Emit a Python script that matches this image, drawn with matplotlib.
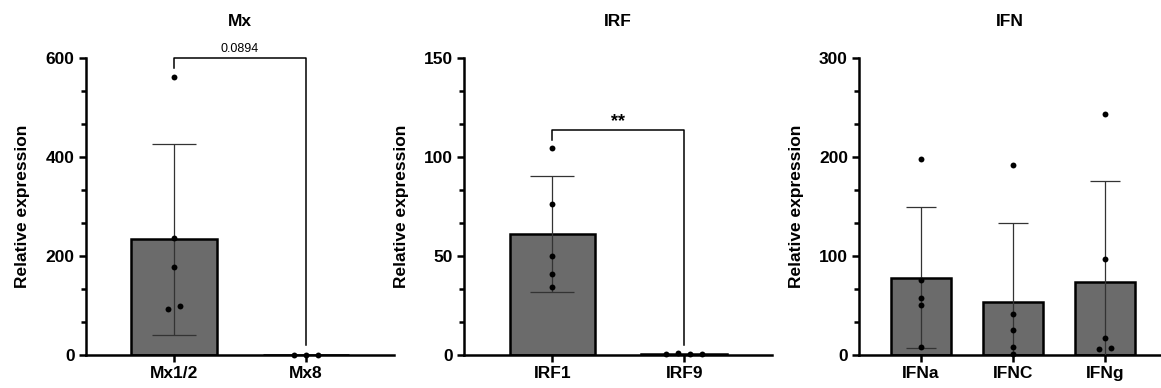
import numpy as np
import matplotlib
matplotlib.use("Agg")
import matplotlib.pyplot as plt
from matplotlib.ticker import AutoMinorLocator, MultipleLocator

plt.rcParams['font.family'] = ['Liberation Sans', 'DejaVu Sans']
plt.rcParams['font.weight'] = 'bold'

# ---- data ----
mx_labels = ["Mx1/2", "Mx8"]
mx_points = [[562, 237, 177, 100, 93], [0.8, 1.0, 0.8]]
mx_jitter = [[0, 0, 0, 0.045, -0.045], [-0.09, 0, 0.09]]

irf_labels = ["IRF1", "IRF9"]
irf_points = [[104.6, 76.2, 49.8, 40.8, 34.1], [0.4, 1.2, 0.6, 0.5]]
irf_jitter = [[0, 0, 0, 0, 0], [-0.137, -0.046, 0.046, 0.137]]

ifn_labels = ["IFNa", "IFNC", "IFNg"]
ifn_points = [[198, 75.8, 58, 51, 8],
              [192.4, 41.8, 25.6, 8, 1],
              [243, 97, 17, 6, 7.5]]
ifn_jitter = [[0, 0, 0, 0, 0], [0, 0, 0, 0, 0], [0, 0, 0, -0.065, 0.065]]

titles = ["Mx", "IRF", "IFN"]
ymax = [600, 150, 300]
ystep = [200, 50, 100]

BAR_COLOR = "#6b6b6b"
FS = 12.5


def draw_panel(ax, labels, points, jitter, title, top, step, xmax, cap):
    xs = np.arange(len(labels))
    means = [np.mean(p) for p in points]
    sds = [np.std(p, ddof=1) for p in points]
    ax.bar(xs, means, width=0.65, color=BAR_COLOR, edgecolor="black",
           linewidth=1.8, zorder=2)
    for x, m, s in zip(xs, means, sds):
        if len(points[x]) > 3 and m > 5:
            ax.errorbar(x, m, yerr=s, fmt="none", ecolor="#333333",
                        elinewidth=0.9, capsize=cap, capthick=0.9, zorder=3)
    for x, pts, jit in zip(xs, points, jitter):
        ax.scatter(x + np.array(jit), pts, s=18, color="black", zorder=4,
                   clip_on=False, linewidths=0)

    ax.set_xlim(-0.67, xmax)
    ax.set_ylim(0, top)
    ax.set_xticks(xs)
    ax.set_xticklabels(labels)
    ax.yaxis.set_major_locator(MultipleLocator(step))
    ax.yaxis.set_minor_locator(AutoMinorLocator(3))
    for side in ["top", "right"]:
        ax.spines[side].set_visible(False)
    for side in ["left", "bottom"]:
        ax.spines[side].set_linewidth(1.8)
    ax.tick_params(axis="both", which="major", length=5, width=1.8,
                   labelsize=FS, pad=3)
    ax.tick_params(axis="y", which="minor", length=3.5, width=1.8)
    ax.tick_params(axis="x", which="minor", bottom=False)
    ax.set_ylabel("Relative expression", fontsize=FS, fontweight="bold",
                  labelpad=11)
    ax.set_title(title, fontsize=FS, fontweight="bold", pad=23)


def bracket(ax, y, left_end, right_end, text, size, weight, ty):
    ax.plot([0, 0, 1, 1], [left_end, y, y, right_end], color="black",
            linewidth=1.1, clip_on=False, zorder=5)
    ax.text(0.5, ty, text, ha="center", va="bottom", fontsize=size,
            fontweight=weight, clip_on=False)


fig = plt.figure(figsize=(11.61, 3.88), dpi=100)
ax1 = fig.add_axes([0.0738, 0.085, 0.2655, 0.7655])
ax2 = fig.add_axes([0.3997, 0.085, 0.2653, 0.7655])
ax3 = fig.add_axes([0.7399, 0.085, 0.2600, 0.7655])

draw_panel(ax1, mx_labels, mx_points, mx_jitter, titles[0], ymax[0], ystep[0], 1.667, 15.8)
draw_panel(ax2, irf_labels, irf_points, irf_jitter, titles[1], ymax[1], ystep[1], 1.667, 15.8)
draw_panel(ax3, ifn_labels, ifn_points, ifn_jitter, titles[2], ymax[2], ystep[2], 2.6, 11)

bracket(ax1, 600, 580, 20, "0.0894", 9, "normal", 606)
bracket(ax2, 113.6, 108.8, 5, "**", 13, "bold", 113.5)

fig.savefig("out.png", dpi=100)
